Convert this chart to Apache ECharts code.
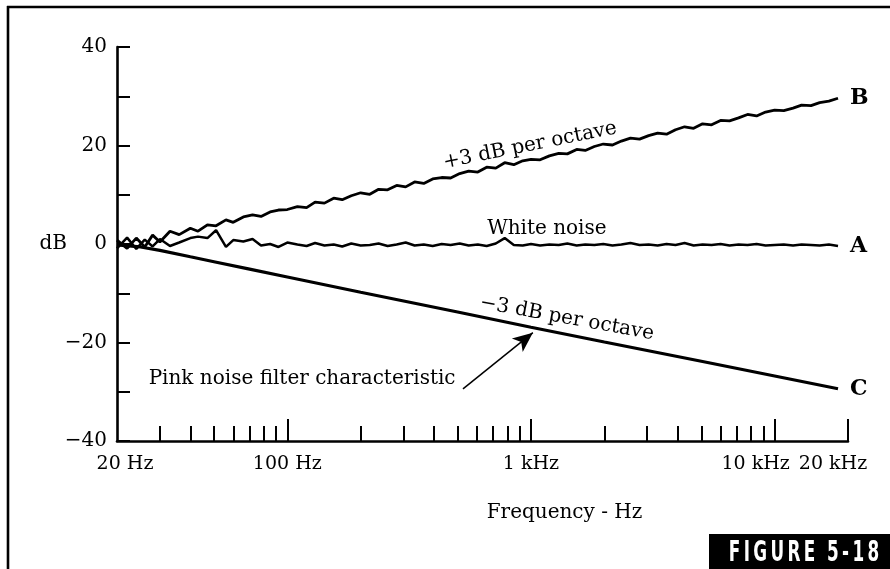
<!DOCTYPE html>
<html>
<head>
<meta charset="utf-8">
<script src="https://cdn.jsdelivr.net/npm/echarts@6.0.0/dist/echarts.min.js"></script>
<style>
html,body{margin:0;padding:0;background:#fff;}
#c{width:890px;height:569px;}
</style>
</head>
<body>
<div id="c"></div>
<script>
// ---- data ----
const freq = [20,22,24,26,28,30,33,36,40,43,47,51,56,60,66,72,78,85,92,100,110,120,130,142,155,168,183,200,218,237,258,281,306,333,363,395,430,468,510,555,605,658,717,780,850,925,1000,1090,1190,1300,1410,1540,1670,1820,1980,2160,2350,2560,2790,3040,3310,3600,3920,4270,4650,5060,5510,6000,6530,7110,7740,8430,9180,10000,10900,11900,12900,14100,15300,16700,18200];
const plus3dB = [0.8,-0.9,1.2,-0.6,1.8,0.4,2.6,1.9,3.2,2.6,3.9,3.7,4.9,4.4,5.5,5.9,5.6,6.5,6.9,7.0,7.6,7.4,8.5,8.3,9.3,9.0,9.8,10.4,10.1,11.1,11.0,11.9,11.6,12.6,12.3,13.2,13.5,13.4,14.3,14.8,14.6,15.6,15.4,16.5,16.1,16.9,17.2,17.1,17.9,18.4,18.3,19.2,19.0,19.8,20.3,20.1,20.9,21.5,21.3,22.0,22.5,22.3,23.2,23.8,23.5,24.4,24.2,25.1,25.0,25.6,26.3,26.0,26.8,27.2,27.1,27.6,28.2,28.1,28.7,29.0,29.6];
const whiteNoise = [-0.9,1.3,-1.0,0.9,-0.5,1.0,-0.4,0.3,1.2,1.5,1.2,2.8,-0.6,0.8,0.5,1.0,-0.3,0.0,-0.6,0.3,-0.1,-0.4,0.2,-0.3,-0.1,-0.5,0.1,-0.3,-0.2,0.1,-0.4,-0.1,0.3,-0.3,-0.1,-0.4,0.0,-0.2,0.1,-0.3,-0.1,-0.4,0.1,1.2,-0.2,-0.3,0.0,-0.3,-0.1,-0.2,0.1,-0.3,-0.1,-0.2,0.0,-0.3,-0.1,0.2,-0.2,-0.1,-0.3,0.0,-0.2,0.2,-0.3,-0.1,-0.2,0.0,-0.3,-0.1,-0.2,0.0,-0.3,-0.2,-0.1,-0.3,-0.1,-0.2,-0.3,-0.1,-0.4];
const pinkFreq = [20,25,30,40,50,70,100,200,500,1000,2000,5000,10000,18200];
const pinkFilter = [-0.2,-0.6,-1.3,-2.6,-3.6,-5.1,-6.7,-9.8,-13.8,-16.9,-19.9,-23.8,-26.8,-29.4];
const minorTickFreqs = [30,40,50,60,70,80,90,200,300,400,500,600,700,800,900,2000,3000,4000,5000,6000,7000,8000,9000];
const majorTickFreqs = [100,1000,10000,20000];
const xLabelFreqs = [20,100,1000,10000,20000];
const xLabelTexts = ['20 Hz','100 Hz','1 kHz','10 kHz','20 kHz'];
const yLabelValues = [-40,-20,0,20,40];
const curveLetters = ['B','A','C'];

const serif = '"DejaVu Serif", "Liberation Serif", serif';
const zip = (xs, ys) => xs.map((x, i) => [x, ys[i]]);

const chart = echarts.init(document.getElementById('c'), null, {renderer: 'canvas'});

const FS = 19;
const FA = 20;
const labelRich = {
  l: {fontFamily: serif, fontSize: FS, color: '#000', padding: [0, 0, 0, 16]},
  m: {fontFamily: serif, fontSize: FS, color: '#000'},
  r10: {fontFamily: serif, fontSize: FS, color: '#000', padding: [0, 38, 0, 0]},
  r20: {fontFamily: serif, fontSize: FS, color: '#000', padding: [0, 30, 0, 0]}
};
const labelStyleKey = ['l', 'm', 'm', 'r10', 'r20'];

const lineSeries = (name, xs, ys, letter, width) => ({
  name: name,
  type: 'line',
  xAxisIndex: 0,
  yAxisIndex: 0,
  data: zip(xs, ys),
  showSymbol: false,
  symbol: 'none',
  smooth: false,
  lineStyle: {color: '#000', width: width},
  endLabel: {
    show: true,
    formatter: letter,
    distance: 12,
    color: '#000',
    fontFamily: serif,
    fontWeight: 'bold',
    fontSize: 22
  },
  z: 3
});

const option = {
  animation: false,
  backgroundColor: '#fff',
  grid: {left: 117, right: 42, top: 47, bottom: 128, containLabel: false},
  xAxis: [
    {
      type: 'log', logBase: 10, min: 20, max: 20000, position: 'bottom',
      name: 'Frequency - Hz', nameLocation: 'middle', nameGap: 62,
      nameTextStyle: {fontFamily: serif, fontSize: FA, color: '#000', padding: [0, 0, 0, 164]},
      axisLine: {show: true, onZero: false, lineStyle: {color: '#000', width: 2.6}},
      axisTick: {show: true, inside: true, length: 15, customValues: minorTickFreqs, lineStyle: {color: '#000', width: 2}},
      minorTick: {show: false},
      splitLine: {show: false},
      axisLabel: {
        show: true, margin: 14, customValues: xLabelFreqs,
        formatter: function (v) {
          const i = xLabelFreqs.findIndex(f => Math.abs(f - v) < 1e-6 * f);
          return i < 0 ? '' : '{' + labelStyleKey[i] + '|' + xLabelTexts[i] + '}';
        },
        rich: labelRich
      }
    },
    {
      type: 'log', logBase: 10, min: 20, max: 20000, position: 'bottom', offset: 0,
      axisLine: {show: false, onZero: false},
      axisTick: {show: true, inside: true, length: 22, customValues: majorTickFreqs, lineStyle: {color: '#000', width: 2}},
      axisLabel: {show: false},
      splitLine: {show: false}
    }
  ],
  yAxis: {
    type: 'value', min: -40, max: 40, interval: 10,
    name: 'dB', nameLocation: 'middle', nameRotate: 0, nameGap: 50, nameMoveOverlap: false,
    nameTextStyle: {fontFamily: serif, fontSize: FA, color: '#000'},
    axisLine: {show: true, onZero: false, lineStyle: {color: '#000', width: 2.6}},
    axisTick: {show: true, inside: true, length: 13, lineStyle: {color: '#000', width: 2}},
    splitLine: {show: false},
    axisLabel: {
      margin: 10, fontFamily: serif, fontSize: FA, color: '#000',
      formatter: function (v) {
        if (yLabelValues.indexOf(v) < 0) return '';
        return v < 0 ? '\u2212' + Math.abs(v) : String(v);
      }
    }
  },
  series: [
    lineSeries('+3 dB per octave', freq, plus3dB, curveLetters[0], 2.8),
    lineSeries('White noise', freq, whiteNoise, curveLetters[1], 2.5),
    Object.assign(lineSeries('Pink noise filter', pinkFreq, pinkFilter, curveLetters[2], 3.2), {
      markLine: {
        silent: true,
        symbol: ['none', 'arrow'],
        symbolSize: [13, 20],
        label: {show: false},
        lineStyle: {color: '#000', width: 1.5, type: 'solid'},
        data: [[{coord: [526, -29.4]}, {coord: [1018, -18.0]}]]
      }
    })
  ]
};
chart.setOption(option);

// annotations anchored in data coordinates
const px = (f, d) => chart.convertToPixel({seriesIndex: 0}, [f, d]);
const annot = (text, f, d, rot, size) => {
  const p = px(f, d);
  return {
    type: 'text', x: p[0], y: p[1], rotation: rot,
    style: {text: text, fill: '#000', font: size + 'px ' + serif, align: 'center', verticalAlign: 'middle'},
    z: 10
  };
};
chart.setOption({
  graphic: [
    {type: 'line', shape: {x1: 7, y1: 7, x2: 890, y2: 7}, style: {stroke: '#000', lineWidth: 2.6}},
    {type: 'line', shape: {x1: 8, y1: 6, x2: 8, y2: 569}, style: {stroke: '#000', lineWidth: 2.6}},
    {type: 'rect', shape: {x: 709, y: 534, width: 181, height: 35}, style: {fill: '#000'}},
    {type: 'text', x: 804, y: 553, scaleX: 0.58,
     style: {text: 'F\u2009I\u2009G\u2009U\u2009R\u2009E  5\u2009-\u20091\u20098', fill: '#fff',
             font: 'bold 29px "DejaVu Sans", sans-serif', align: 'center', verticalAlign: 'middle'}},
    annot('+3 dB per octave', 990, 20.0, 0.2, FA),
    annot('White noise', 1162, 3.15, 0, FA),
    annot('\u22123 dB per octave', 1404, -15.1, -0.18, FA),
    annot('Pink noise filter characteristic', 115, -27.3, 0, FA)
  ]
});
</script>
</body>
</html>
